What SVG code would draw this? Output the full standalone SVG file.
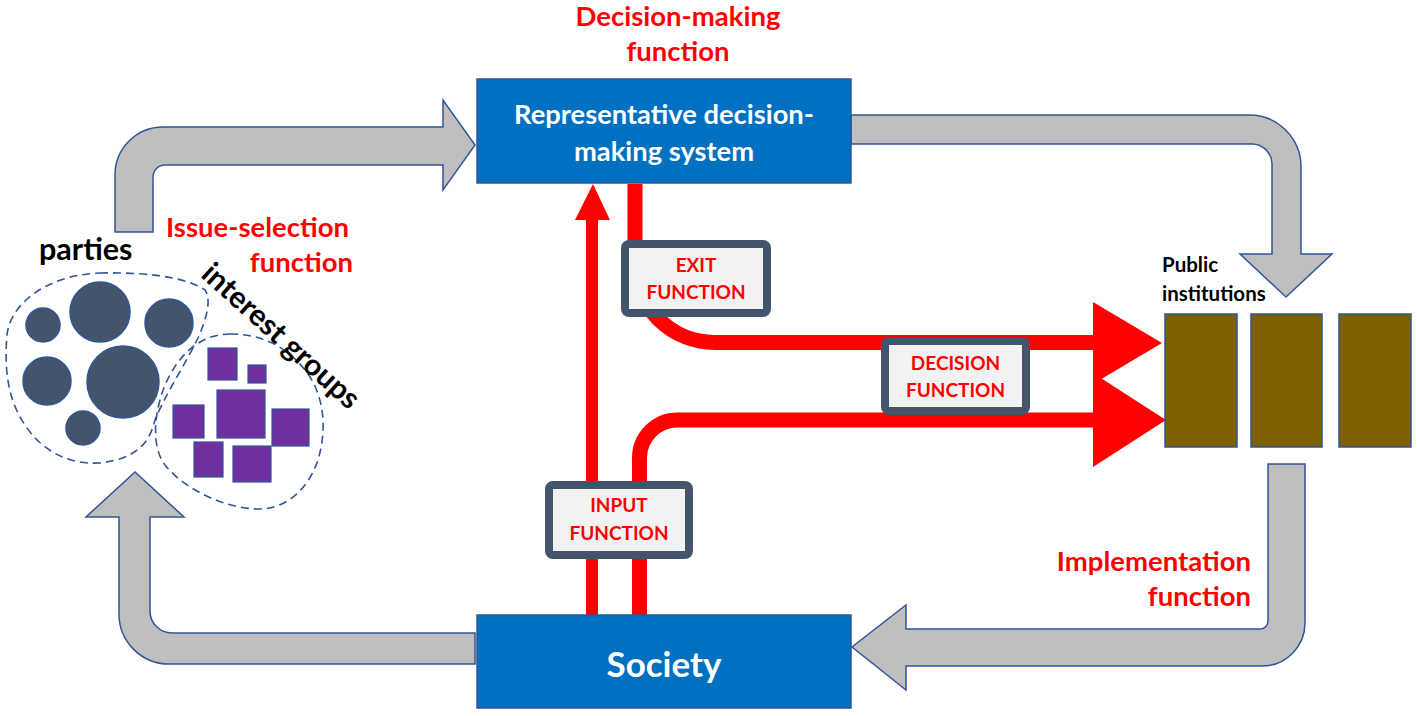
<svg xmlns="http://www.w3.org/2000/svg" width="1417" height="716" viewBox="0 0 1417 716">
<style>
.gray{fill:#BFBFBF;stroke:#2F5597;stroke-width:1.5;stroke-linejoin:miter}
.blue{fill:#0070C0;stroke:#2F5597;stroke-width:1.5}
.red{fill:none;stroke:#FF0000;stroke-width:15}
.head{fill:#FF0000}
.fbox{fill:#F2F2F2;stroke:#44546A;stroke-width:8}
.ftxt{font-family:Lato,"Open Sans",sans-serif;font-weight:bold;font-size:19px;fill:#FF0000;text-anchor:middle}
.lbl{font-family:Lato,"Open Sans",sans-serif;font-weight:bold;font-size:27.5px;fill:#FF0000}
.wt{font-family:Lato,"Open Sans",sans-serif;font-weight:bold;fill:#FFFFFF;text-anchor:middle}
.bk{font-family:Lato,"Open Sans",sans-serif;font-weight:bold;fill:#000000}
.circ{fill:#44546A;stroke:#2F5597;stroke-width:1.5}
.sq{fill:#7030A0;stroke:#2F5597;stroke-width:1.2}
.blob{fill:none;stroke:#2F5597;stroke-width:1.6;stroke-dasharray:8 5}
.inst{fill:#7F6000;stroke:#2F5597;stroke-width:1.5}
</style>
<rect width="1417" height="716" fill="#FFFFFF"/>
<g id="connectors">
  <path class="gray" d="M115,232 V175 A48,48 0 0 1 163,127 H443 V100 L475,145 L443,190 V165 H165 A12,12 0 0 0 153,177 V232 Z"/>
  <path class="gray" d="M851,115 H1249 A52,52 0 0 1 1301,167 V254 H1332 L1286,297 L1240,254 H1272 V164 A20,20 0 0 0 1252,144 H851 Z"/>
  <path class="gray" d="M1268,464 H1305 V623 A43,43 0 0 1 1262,666 H906 V690 L852,647 L906,605 V629 H1260 A8,8 0 0 0 1268,621 Z"/>
  <path class="gray" d="M475,633 V664 H169 A50,50 0 0 1 119,614 V517 H86 L135,472 L184,517 H150 V611 A22,22 0 0 0 172,633 Z"/>
  <line class="red" x1="592" y1="615" x2="592" y2="218" style="stroke-width:12"/>
  <polygon class="head" points="575,220 593,184 610,220"/>
  <path class="red" d="M635,184 V262 A80,80 0 0 0 715,342.5 H1096"/>
  <path class="red" d="M639.5,615 V458 A38,38 0 0 1 677.5,420 H1096"/>
  <polygon class="head" points="1093,302 1162,343 1093,384"/>
  <polygon class="head" points="1093,373 1166,420 1093,467"/>
</g>
<g id="decision-system">
  <rect class="blue" x="477" y="79" width="374" height="104"/>
  <text class="wt" x="664" y="124" font-size="27.3">Representative decision-</text>
  <text class="wt" x="664" y="161" font-size="27.3">making system</text>
</g>
<g id="society">
  <rect class="blue" x="477" y="615" width="374" height="93"/>
  <text class="wt" x="664" y="677" font-size="35">Society</text>
</g>
<g id="exit-function">
  <rect class="fbox" x="625" y="244" width="142" height="69" rx="4"/>
  <text class="ftxt" x="696" y="272">EXIT</text>
  <text class="ftxt" x="696" y="299">FUNCTION</text>
</g>
<g id="input-function">
  <rect class="fbox" x="549" y="485" width="140" height="70" rx="4"/>
  <text class="ftxt" x="619" y="512">INPUT</text>
  <text class="ftxt" x="619" y="540">FUNCTION</text>
</g>
<g id="decision-function">
  <rect class="fbox" x="885" y="341" width="141" height="70" rx="4"/>
  <text class="ftxt" x="955.5" y="370">DECISION</text>
  <text class="ftxt" x="955.5" y="397">FUNCTION</text>
</g>
<g id="public-institutions">
  <rect class="inst" x="1165" y="314" width="72" height="133"/>
  <rect class="inst" x="1251" y="314" width="71" height="133"/>
  <rect class="inst" x="1339" y="314" width="72" height="133"/>
  <text class="bk" x="1162" y="272" font-size="20.5">Public</text>
  <text class="bk" x="1162" y="301" font-size="20.5">institutions</text>
</g>
<g id="parties">
  <path class="blob" d="M100,273 C140,272 185,276 205,290 C212,300 206,320 198,338 C185,365 165,395 155,420 C150,440 140,458 100,463 C65,465 40,448 25,425 C8,400 4,370 7,335 C10,305 45,275 100,273 Z"/>
  <circle class="circ" cx="43" cy="325" r="17"/>
  <circle class="circ" cx="100" cy="312" r="30"/>
  <circle class="circ" cx="169" cy="323" r="24"/>
  <circle class="circ" cx="47" cy="381" r="24"/>
  <circle class="circ" cx="123" cy="382" r="36"/>
  <circle class="circ" cx="83" cy="428" r="17"/>
  <text class="bk" x="39" y="260" font-size="30.5">parties</text>
</g>
<g id="interest-groups">
  <path class="blob" d="M230,334 C260,334 285,345 305,370 C325,395 327,430 318,460 C308,490 285,510 257,509 C225,508 185,490 165,465 C150,445 155,410 165,385 C178,355 200,334 230,334 Z"/>
  <rect class="sq" x="208" y="348" width="29" height="32"/>
  <rect class="sq" x="248" y="365" width="18" height="18"/>
  <rect class="sq" x="217" y="390" width="48" height="48"/>
  <rect class="sq" x="173" y="405" width="31" height="33"/>
  <rect class="sq" x="272" y="409" width="37" height="37"/>
  <rect class="sq" x="194" y="442" width="29" height="35"/>
  <rect class="sq" x="233" y="446" width="38" height="36"/>
  <text class="bk" transform="translate(281,336) rotate(42)" x="0" y="10" font-size="30" text-anchor="middle">interest groups</text>
</g>
<g id="labels">
  <text class="lbl" x="678" y="26" text-anchor="middle">Decision-making</text>
  <text class="lbl" x="678" y="61" text-anchor="middle">function</text>
  <text class="lbl" x="166" y="237">Issue-selection</text>
  <text class="lbl" x="353" y="272" text-anchor="end">function</text>
  <text class="lbl" x="1251" y="571" text-anchor="end" font-size="28.5">Implementation</text>
  <text class="lbl" x="1251" y="606" text-anchor="end" font-size="28.5">function</text>
</g>
</svg>
